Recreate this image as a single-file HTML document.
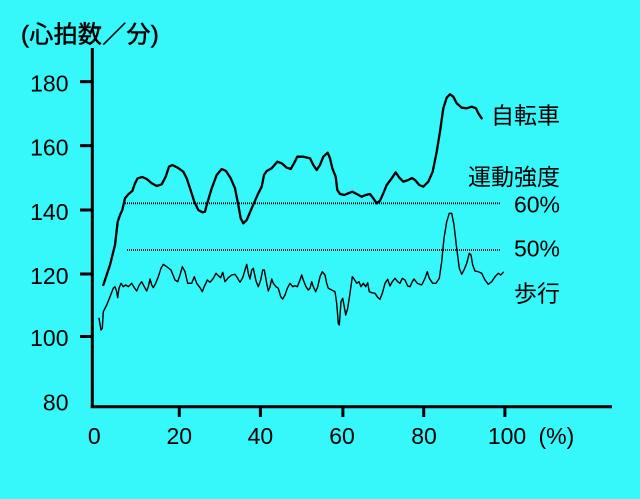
<!DOCTYPE html>
<html><head><meta charset="utf-8"><style>
html,body{margin:0;padding:0;background:#36f7f9;}
svg{display:block;}
.n{font-family:"Liberation Sans",sans-serif;font-size:23px;fill:#000;}
.j{font-family:"Liberation Sans","Noto Sans CJK JP",sans-serif;font-size:23px;fill:#000;}
</style></head><body>
<svg width="640" height="499" viewBox="0 0 640 499" xmlns="http://www.w3.org/2000/svg">
<rect width="640" height="499" fill="#36f7f9"/>
<!-- title -->
<text x="21" y="42.5" class="j" style="font-size:24px;stroke:#000;stroke-width:0.5px;letter-spacing:0.3px">(心拍数／分)</text>
<!-- axes -->
<line x1="92.3" y1="48" x2="92.3" y2="408" stroke="#000" stroke-width="3"/>
<line x1="90.8" y1="406.7" x2="612" y2="406.7" stroke="#000" stroke-width="3"/>
<g stroke="#000" stroke-width="3">
<line x1="80" y1="81.7" x2="92" y2="81.7"/>
<line x1="80" y1="145.7" x2="92" y2="145.7"/>
<line x1="80" y1="210" x2="92" y2="210"/>
<line x1="80" y1="274" x2="92" y2="274"/>
<line x1="80" y1="336.5" x2="92" y2="336.5"/>
<line x1="179.3" y1="407" x2="179.3" y2="417"/>
<line x1="260.4" y1="407" x2="260.4" y2="417"/>
<line x1="342.9" y1="407" x2="342.9" y2="417"/>
<line x1="423.7" y1="407" x2="423.7" y2="417"/>
<line x1="504.9" y1="407" x2="504.9" y2="417"/>
</g>
<!-- y labels -->
<g class="n" text-anchor="end">
<text x="68.5" y="91.7">180</text>
<text x="68.5" y="155.7">160</text>
<text x="68.5" y="220">140</text>
<text x="68.5" y="284">120</text>
<text x="68.5" y="346">100</text>
<text x="68.5" y="410.5">80</text>
</g>
<!-- x labels -->
<g class="n" text-anchor="middle">
<text x="94.3" y="444">0</text>
<text x="179.3" y="444">20</text>
<text x="260.4" y="444">40</text>
<text x="342" y="444">60</text>
<text x="424" y="444">80</text>
<text x="507" y="444">100</text>
</g>
<text x="538.5" y="444" class="n">(%)</text>
<!-- dotted lines -->
<line x1="125" y1="203.3" x2="500" y2="203.3" stroke="#000" stroke-width="1.8" stroke-dasharray="1 1"/>
<line x1="127" y1="250" x2="500" y2="250" stroke="#000" stroke-width="1.8" stroke-dasharray="1 1"/>
<!-- bicycle -->
<polyline fill="none" stroke="#000" stroke-width="2.3" stroke-linejoin="round" stroke-linecap="round" points="103.3,285 110,265 115,245 117.7,221.7 120,215 122.3,210 125,198.3 128.3,194.3 132.3,191 135,183.3 137.7,178.3 142.3,177 146.7,179 151.7,183.3 156.7,186 161.7,184.3 165.7,176.7 169,166.7 172.3,165 177.7,167.7 183.3,171.7 186.7,178.3 190,188.3 194.3,201.7 198.3,210 202.3,212.3 205,211.7 206.7,205 211.7,188.3 216.7,175 221.7,169 226,171 230.7,178.3 235,188.3 238.3,205 240.7,218.3 243.3,223.3 246.7,220 251.7,208.3 258.3,193.3 261.7,186.7 264,175 266.7,171 271.7,168.3 277.3,161.7 281.7,163.3 286.7,167.7 290.7,169 294,163.3 297.3,156.7 303.3,156.7 310,158.3 313.3,165 316.7,170 320,165 323.3,156.7 327.7,152.7 330,158.3 332.3,168.3 335.7,176.7 337.3,190 340,194 344.3,195 348.3,193.3 352.3,191.7 356.7,194 361.7,196.7 365.7,195 370,194 373.3,198.3 376.7,203.3 380,200.7 383.3,193.3 386.7,185 391.7,178.3 395.7,172.3 399,177.3 403.3,181.7 408.3,180 412,178 415,180 419.3,185 423.3,186.7 428.3,181.7 432.7,171.7 436.7,151.7 440,131.7 443.3,108.3 446.7,97.7 450,94.3 453.3,96.7 456.7,103.3 461.7,107.7 466.7,108.3 471.7,106.7 476,108.3 478.3,113.3 481.7,118.3"/>
<!-- walking -->
<polyline fill="none" stroke="#000" stroke-width="1.4" stroke-linejoin="round" stroke-linecap="round" points="99,318.3 101,330 102.3,328.3 103.3,311.7 106.7,305 110,296.7 113.3,288.3 115,286.7 116.7,291.7 117.7,297.7 119,288.3 121,283.3 123.3,286.7 125.7,285 128.3,286.7 131.7,283.3 134.3,287.7 136.7,291 139.3,285 141.7,281.7 144.3,286.7 146.7,291 148.3,286.7 150,279 151.7,285 153.3,287.7 155.7,283.3 158.3,276.7 161,268.3 163.3,264.3 166.7,266.7 171,270 175,280 177.7,281.7 180,275 182.3,266.7 185,271.7 187.7,283.3 191.7,283.3 194.3,276.7 196.7,283.3 200,287.7 202.3,291.7 204,287 206,283 207.3,280 210,282.3 213.3,278.3 216,273.3 218.3,275.7 220.7,277.7 222.7,272.3 225,281.7 228.3,277.7 231.7,275 235,274.3 237.3,277.7 240,282.3 242.7,277.7 245,270 246.7,264.3 248.3,273.3 250,279 251.7,270 253.3,268.3 256,281 258.3,286.7 260.7,280 262.7,270 264.3,270 266.7,283.3 268.3,291 270,286.7 271.7,279 273.3,283.3 276,286.7 278.3,288.3 280.7,296.7 282.7,299 285,295 287.3,288.3 290,283.3 292.7,286.7 295,285.7 297.3,286.7 300,280 301.7,275 303.3,280 306,286.7 308.3,290 310,288.3 311.7,281.7 313.3,286.7 315.7,291.7 317.7,286.7 320,276.7 322.3,271.7 325,275 326.7,283.3 328.3,288.3 331.7,290 335,291.7 336.7,303.3 338.3,323.3 339.3,325 341,301.7 342.7,298.3 344.3,306.7 345.7,315 347.7,308.3 350,293.3 352.3,276.7 354.3,279.3 356.7,283.3 359,281.7 361,286.7 363.3,283.3 365.7,286.7 367.7,282.7 369.3,291.7 371.7,292.7 375,293.3 377.7,297.3 380,299.3 382.3,293.3 385,283.3 387.7,279.3 390,286 392.3,281.7 395,278.3 397.7,281.7 400,283.3 402.3,278.3 405,280 407.7,286 410,286.7 412.3,281.7 414,279 417.3,283.3 421.7,285 425,278.3 427.3,271.7 429.3,278.3 432.7,283.3 436,283.3 439.3,278.3 441.7,261.7 444,238.3 446.7,221.7 449.3,213.3 451.7,213.3 454,225 456.7,248.3 459.3,268.3 461.7,274.3 464,270 466.7,263.3 469.3,253.3 471,255 472.7,265 475,271 478.3,271.7 481.7,273.3 485,280 488.3,284.3 491.7,281.7 495,276.7 498.3,273.3 500.7,275 503.3,272.3"/>
<!-- right labels -->
<g class="j" text-anchor="end">
<text x="560" y="123.5">自転車</text>
<text x="560" y="185">運動強度</text>
<text x="560" y="212.7">60%</text>
<text x="560" y="256.7">50%</text>
<text x="560" y="301.5">歩行</text>
</g>
</svg>
</body></html>
